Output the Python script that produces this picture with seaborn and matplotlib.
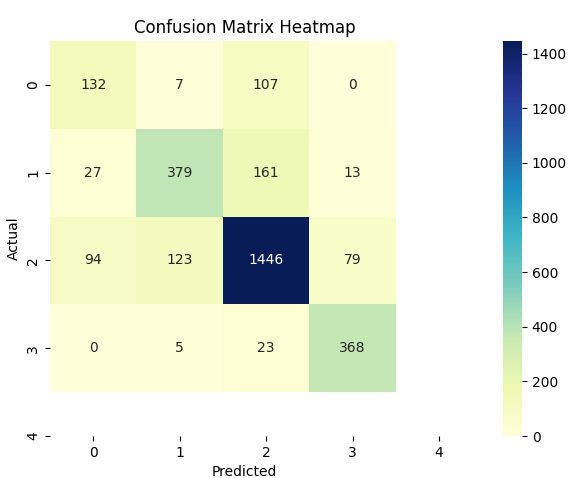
import numpy as np
import matplotlib
matplotlib.use("Agg")
import matplotlib.pyplot as plt
import seaborn as sns

# Confusion matrix counts (rows: actual, columns: predicted)
row_0 = [132, 7, 107, 0]
row_1 = [27, 379, 161, 13]
row_2 = [94, 123, 1446, 79]
row_3 = [0, 5, 23, 368]
tick_labels = [0, 1, 2, 3, 4]

cm = np.array([row_0, row_1, row_2, row_3])

fig = plt.figure(figsize=(5.68, 4.78), dpi=100)
ax = fig.add_axes([50 / 568, 1 - 436 / 478, 389 / 568, 395 / 478])
cax = fig.add_axes([503 / 568, 1 - 436 / 478, 19 / 568, 395 / 478])

sns.heatmap(cm, annot=True, fmt="d", cmap="YlGnBu", ax=ax, cbar_ax=cax)

positions = np.arange(len(tick_labels)) + 0.5
ax.set_xticks(positions, tick_labels)
ax.set_yticks(positions, tick_labels)
for lbl in ax.get_yticklabels():
    lbl.set_rotation(90)
    lbl.set_va("center")

ax.set_title("Confusion Matrix Heatmap", fontsize=12)
ax.set_xlabel("Predicted")
ax.set_ylabel("Actual")

fig.savefig("out.png", dpi=100)
